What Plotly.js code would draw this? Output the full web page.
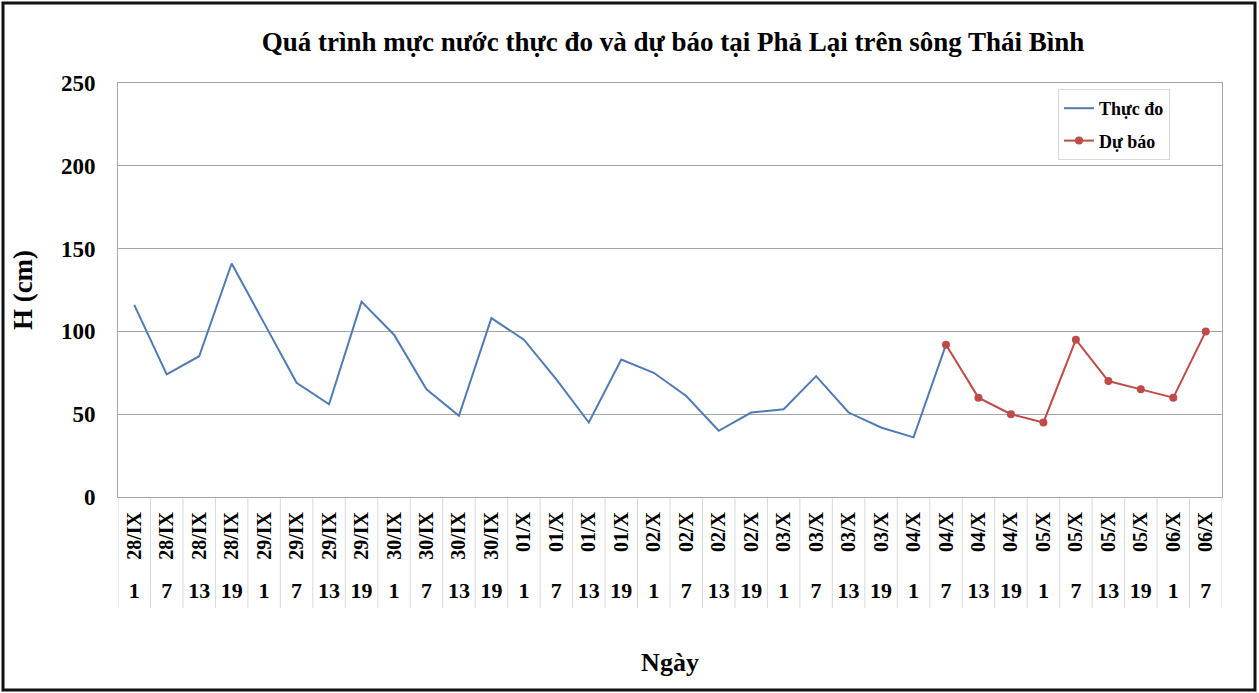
<!DOCTYPE html>
<html>
<head>
<meta charset="utf-8">
<script src="https://cdn.plot.ly/plotly-3.0.1.min.js"></script>
<style>
html,body{margin:0;padding:0;background:#fff;}
#chart{width:1259px;height:693px;}
</style>
</head>
<body>
<div id="chart"></div>
<script>
// ---- data ----
const dates = ['28/IX','28/IX','28/IX','28/IX','29/IX','29/IX','29/IX','29/IX',
  '30/IX','30/IX','30/IX','30/IX','01/X','01/X','01/X','01/X',
  '02/X','02/X','02/X','02/X','03/X','03/X','03/X','03/X',
  '04/X','04/X','04/X','04/X','05/X','05/X','05/X','05/X','06/X','06/X'];
const hours = ['1','7','13','19','1','7','13','19','1','7','13','19','1','7','13','19',
  '1','7','13','19','1','7','13','19','1','7','13','19','1','7','13','19','1','7'];
const observed = [116,74,85,141,105,69,56,118,98,65,49,108,95,71,45,83,
  75,61,40,51,53,73,51,42,36,92,null,null,null,null,null,null,null,null];
const forecast = [null,null,null,null,null,null,null,null,null,null,null,null,null,null,null,null,
  null,null,null,null,null,null,null,null,null,92,60,50,45,95,70,65,60,100];
const seriesNames = ['Thực đo','Dự báo'];
const yTicks = [0,50,100,150,200,250];

const idx = dates.map((_, i) => i);
const font = 'Liberation Serif, Times New Roman, serif';

// plot area pixel geometry
const W = 1259, H = 693;
const mL = 118, mR = 37, mT = 83, mB = 53;
const plotBottom = 497;
const paperH = H - mT - mB;
const paperW = W - mL - mR;
const py = (pix) => (H - mB - pix) / paperH;
const px = (pix) => (pix - mL) / paperW;

const traces = [
  {x: idx, y: observed, name: seriesNames[0], type: 'scatter', mode: 'lines', legendgroup: 'a',
   line: {color: '#4F7BB5', width: 2}, connectgaps: false},
  {x: idx, y: forecast, name: seriesNames[1], type: 'scatter', mode: 'lines+markers', legendgroup: 'b',
   line: {color: '#BE4B48', width: 2}, marker: {color: '#BE4B48', size: 8}}
];

const shapes = [];
for (let i = 0; i <= dates.length; i++) {
  shapes.push({type: 'line', xref: 'x', yref: 'paper', x0: i - 0.5, x1: i - 0.5,
    y0: py(608), y1: py(plotBottom), line: {color: '#d9d9d9', width: 1}, layer: 'below'});
}
shapes.push({type: 'rect', xref: 'paper', yref: 'paper',
  x0: px(3), x1: px(1255), y0: py(690), y1: py(3),
  line: {color: '#111', width: 3}});

const layout = {
  width: W, height: H,
  margin: {l: mL, r: mR, t: mT, b: mB},
  paper_bgcolor: '#fff', plot_bgcolor: '#fff',
  showlegend: true,
  title: {text: 'Quá trình mực nước thực đo và dự báo tại Phả Lại trên sông Thái Bình',
    font: {family: font, size: 27, color: '#000', weight: 'bold'},
    x: px(673), xref: 'paper', xanchor: 'center', y: 1 - 42 / H, yref: 'container', yanchor: 'middle'},
  yaxis: {domain: [py(plotBottom), 1], range: [0, 250], tickvals: yTicks, tickmode: 'array',
    showgrid: true, gridcolor: '#a6a6a6', gridwidth: 1, zeroline: false,
    showline: true, linecolor: '#a6a6a6', mirror: true, ticks: '',
    ticklabelstandoff: 17,
    tickfont: {family: font, size: 23, color: '#000', weight: 'bold'},
    title: {text: 'H (cm)', standoff: 20, font: {family: font, size: 27, color: '#000', weight: 'bold'}}},
  xaxis: {range: [-0.5, dates.length - 0.5], tickmode: 'array', tickvals: idx, ticktext: dates,
    tickangle: -90, showgrid: false, zeroline: false, showline: true, linecolor: '#a6a6a6',
    mirror: true, ticks: '', ticklabelstandoff: 6,
    tickfont: {family: font, size: 20, color: '#000', weight: 'bold'}},
  xaxis2: {overlaying: 'x', anchor: 'free', position: py(575), side: 'bottom',
    range: [-0.5, dates.length - 0.5], tickmode: 'array', tickvals: idx, ticktext: hours,
    showgrid: false, zeroline: false, showline: false, ticks: '',
    tickfont: {family: font, size: 22, color: '#000', weight: 'bold'},
    title: {text: 'Ngày', standoff: 50, font: {family: font, size: 26, color: '#000', weight: 'bold'}}},
  legend: {x: px(1058), y: py(89), xanchor: 'left', yanchor: 'top',
    bgcolor: '#fff', bordercolor: '#d9d9d9', borderwidth: 1,
    traceorder: 'grouped', tracegroupgap: 6,
    itemwidth: 30, font: {family: font, size: 18, color: '#000', weight: 'bold'}},
  shapes: shapes
};

// invisible trace to activate xaxis2
traces.push({x: idx, y: observed.map(() => null), xaxis: 'x2', yaxis: 'y',
  type: 'scatter', mode: 'lines', showlegend: false, hoverinfo: 'skip'});

Plotly.newPlot('chart', traces, layout, {displayModeBar: false, staticPlot: true});
</script>
</body>
</html>
